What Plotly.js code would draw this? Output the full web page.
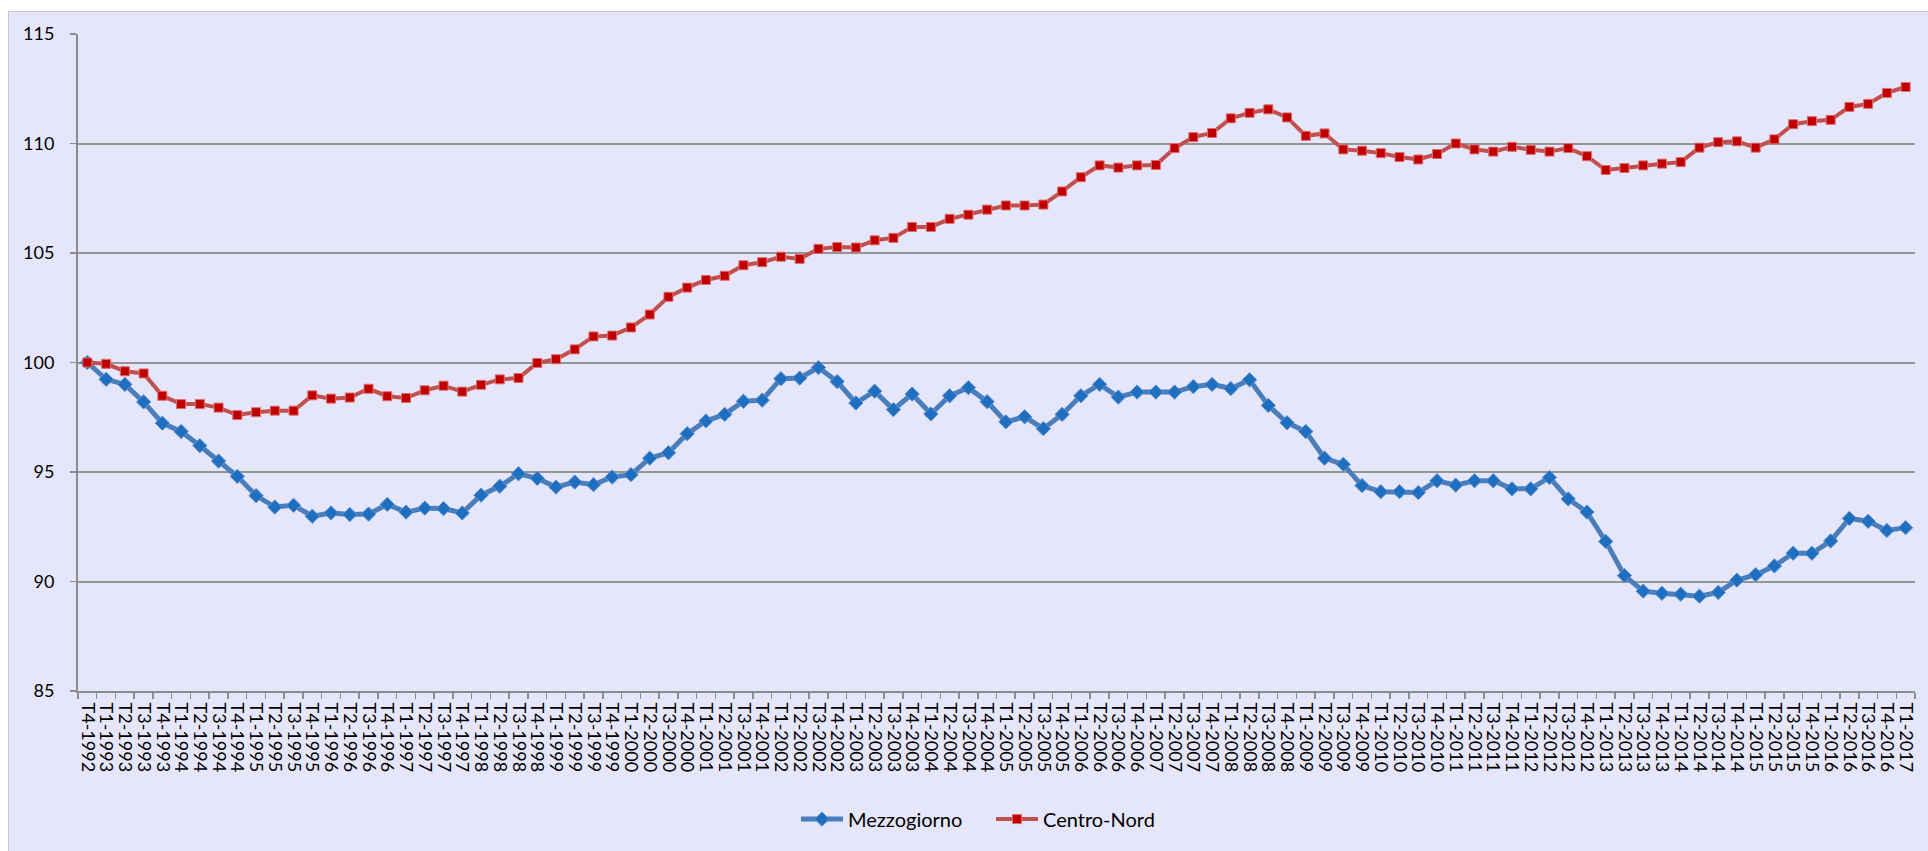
<!DOCTYPE html>
<html>
<head>
<meta charset="utf-8">
<script src="https://cdn.plot.ly/plotly-3.0.1.min.js"></script>
<style>
  html, body { margin: 0; padding: 0; background: #ffffff; width: 1928px; height: 851px; overflow: hidden; }
  #chart { position: absolute; left: 8px; top: 11px; width: 1920px; height: 840px;
           border-left: 1px solid #c4c4d4; border-top: 1px solid #c4c4d4; box-sizing: border-box; }
</style>
</head>
<body>
<div id="chart"></div>
<script>
var quarters = [
  "T4-1992",
  "T1-1993","T2-1993","T3-1993","T4-1993",
  "T1-1994","T2-1994","T3-1994","T4-1994",
  "T1-1995","T2-1995","T3-1995","T4-1995",
  "T1-1996","T2-1996","T3-1996","T4-1996",
  "T1-1997","T2-1997","T3-1997","T4-1997",
  "T1-1998","T2-1998","T3-1998","T4-1998",
  "T1-1999","T2-1999","T3-1999","T4-1999",
  "T1-2000","T2-2000","T3-2000","T4-2000",
  "T1-2001","T2-2001","T3-2001","T4-2001",
  "T1-2002","T2-2002","T3-2002","T4-2002",
  "T1-2003","T2-2003","T3-2003","T4-2003",
  "T1-2004","T2-2004","T3-2004","T4-2004",
  "T1-2005","T2-2005","T3-2005","T4-2005",
  "T1-2006","T2-2006","T3-2006","T4-2006",
  "T1-2007","T2-2007","T3-2007","T4-2007",
  "T1-2008","T2-2008","T3-2008","T4-2008",
  "T1-2009","T2-2009","T3-2009","T4-2009",
  "T1-2010","T2-2010","T3-2010","T4-2010",
  "T1-2011","T2-2011","T3-2011","T4-2011",
  "T1-2012","T2-2012","T3-2012","T4-2012",
  "T1-2013","T2-2013","T3-2013","T4-2013",
  "T1-2014","T2-2014","T3-2014","T4-2014",
  "T1-2015","T2-2015","T3-2015","T4-2015",
  "T1-2016","T2-2016","T3-2016","T4-2016",
  "T1-2017"
];

var mezzogiorno = [
  100.0,
  99.23, 99.0, 98.2, 97.23,
  96.85, 96.2, 95.5, 94.8,
  93.92, 93.4, 93.48, 92.98,
  93.13, 93.06, 93.08, 93.52,
  93.17, 93.35, 93.33, 93.13,
  93.94, 94.35, 94.92, 94.71,
  94.31, 94.54, 94.42, 94.77,
  94.88, 95.63, 95.88, 96.75,
  97.33, 97.63, 98.23, 98.28,
  99.26, 99.29, 99.77, 99.13,
  98.15, 98.69, 97.85, 98.56,
  97.65, 98.48, 98.85, 98.21,
  97.29, 97.52, 96.98, 97.63,
  98.48, 99.0, 98.42, 98.65,
  98.65, 98.65, 98.9, 99.0,
  98.81, 99.21, 98.04, 97.25,
  96.85, 95.63, 95.35, 94.38,
  94.10, 94.10, 94.06, 94.6,
  94.4, 94.6, 94.6, 94.23,
  94.23, 94.75, 93.77, 93.17,
  91.83, 90.27, 89.56, 89.46,
  89.42, 89.33, 89.5, 90.06,
  90.31, 90.71, 91.29, 91.29,
  91.85, 92.88, 92.75, 92.33,
  92.46
];

var centroNord = [
  100.0,
  99.94, 99.6, 99.5, 98.48,
  98.1, 98.1, 97.94, 97.6,
  97.73, 97.8, 97.8, 98.5,
  98.35, 98.4, 98.8, 98.46,
  98.38, 98.73, 98.94, 98.67,
  98.98, 99.23, 99.29, 99.98,
  100.15, 100.6, 101.19, 101.23,
  101.6, 102.19, 103.0, 103.42,
  103.77, 103.96, 104.44, 104.58,
  104.83, 104.73, 105.19, 105.27,
  105.25, 105.58, 105.69, 106.19,
  106.19, 106.56, 106.75, 106.98,
  107.17, 107.17, 107.21, 107.81,
  108.46, 109.0, 108.9, 109.0,
  109.02, 109.79, 110.29, 110.48,
  111.15, 111.4, 111.56, 111.19,
  110.35, 110.46, 109.73, 109.67,
  109.56, 109.38, 109.27, 109.52,
  110.0, 109.73, 109.63, 109.85,
  109.71, 109.63, 109.79, 109.42,
  108.79, 108.88, 109.0, 109.08,
  109.15, 109.81, 110.06, 110.1,
  109.81, 110.19, 110.88, 111.02,
  111.08, 111.67, 111.81, 112.31,
  112.58
];

var yTicks = [85, 90, 95, 100, 105, 110, 115];

var traces = [
  {
    x: quarters, y: mezzogiorno, name: "Mezzogiorno", type: "scatter", mode: "lines+markers",
    line: { color: "#4a7ebb", width: 5 },
    marker: { symbol: "diamond", size: 11, color: "#1f6fc0", line: { color: "#5b8fd0", width: 1 } }
  },
  {
    x: quarters, y: centroNord, name: "Centro-Nord", type: "scatter", mode: "lines+markers",
    line: { color: "#c0504d", width: 4 },
    marker: { symbol: "square", size: 9, color: "#c00000", line: { color: "#dc6e6e", width: 1 } }
  }
];

var layout = {
  width: 1919, height: 839,
  paper_bgcolor: "#e6e6fa",
  plot_bgcolor: "#e6e6fa",
  margin: { l: 69, r: 13, t: 22, b: 158, pad: 0 },
  font: { family: "Lato, 'DejaVu Sans', sans-serif", color: "#000000", size: 18 },
  showlegend: true,
  legend: {
    orientation: "h", x: 0.497, xanchor: "center", y: -0.195, yanchor: "middle",
    font: { family: "Lato, sans-serif", size: 20, color: "#000000" },
    entrywidth: 138, entrywidthmode: "pixels",
    itemwidth: 42,
    bgcolor: "rgba(0,0,0,0)"
  },
  xaxis: {
    type: "category",
    range: [-0.5, quarters.length - 0.5],
    tickmode: "linear", tick0: 0, dtick: 1,
    tickangle: 90,
    tickson: "boundaries",
    ticks: "outside", ticklen: 6, tickwidth: 1.5, tickcolor: "#8c8c8c",
    ticklabelstandoff: 6,
    showline: true, linecolor: "#8c8c8c", linewidth: 2,
    showgrid: false, zeroline: false,
    tickfont: { family: "Lato, 'DejaVu Sans', sans-serif", size: 18, color: "#000000" },
    fixedrange: true
  },
  yaxis: {
    range: [85, 115],
    tickvals: yTicks,
    ticktext: yTicks.map(String),
    ticks: "outside", ticklen: 6, tickwidth: 1.5, tickcolor: "#8c8c8c",
    ticklabelstandoff: 12,
    showline: true, linecolor: "#8c8c8c", linewidth: 2,
    showgrid: true, gridcolor: "#959595", gridwidth: 2,
    zeroline: false,
    tickfont: { family: "Lato, 'DejaVu Sans', sans-serif", size: 18, color: "#000000" },
    fixedrange: true
  }
};

Plotly.newPlot("chart", traces, layout, { staticPlot: true, displayModeBar: false });
</script>
</body>
</html>
